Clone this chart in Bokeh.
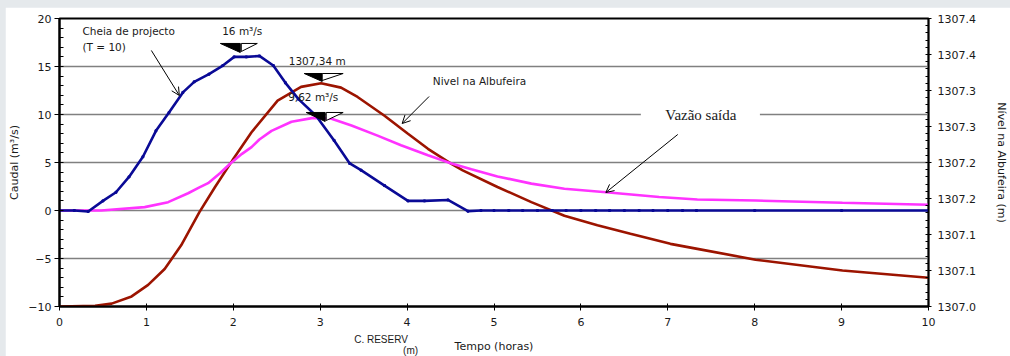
from bokeh.plotting import figure
from bokeh.models import Range1d, LinearAxis, FixedTicker, Label, Arrow, OpenHead, BoxAnnotation
from bokeh.embed import file_html
from bokeh.resources import INLINE

# ---------------- data ----------------
# Inflow hydrograph (Cheia de projecto, T = 10), m3/s
cheia_t = [0, 0.17, 0.33, 0.5, 0.65, 0.8, 0.96, 1.11, 1.26, 1.42, 1.55, 1.72, 1.88, 2.01, 2.15, 2.30,
           2.46, 2.60, 2.75, 2.95, 3.16, 3.34, 3.47, 3.74, 4.01, 4.20, 4.47, 4.70, 4.85,
           5.0, 5.17, 5.33, 5.5, 5.67, 5.83, 6.0, 6.17, 6.33, 6.5, 6.67, 6.83, 7.0, 7.17, 7.33, 8.0, 9.0, 10.0]
cheia_q = [0, 0, -0.1, 1.0, 1.9, 3.5, 5.6, 8.3, 10.2, 12.3, 13.4, 14.2, 15.1, 16.0, 16.0, 16.1,
           15.1, 13.3, 11.6, 9.9, 7.3, 4.9, 4.2, 2.6, 1.0, 1.0, 1.1, -0.07, 0,
           0, 0, 0, 0, 0, 0, 0, 0, 0, 0, 0, 0, 0, 0, 0, 0, 0, 0]

# Outflow (Vazão saída), m3/s
saida_t = [0, 0.48, 0.98, 1.25, 1.48, 1.61, 1.71, 1.85, 1.96, 2.10, 2.21, 2.30, 2.44, 2.67, 2.92, 3.13,
           3.36, 3.66, 3.93, 4.24, 4.51, 4.74, 5.04, 5.43, 5.81, 6.29, 6.90, 7.34, 8.01, 9.01, 10]
saida_q = [0, 0, 0.35, 0.87, 1.8, 2.4, 2.85, 3.9, 4.85, 5.9, 6.6, 7.4, 8.3, 9.25, 9.65, 9.55,
           8.85, 7.8, 6.8, 5.75, 4.9, 4.3, 3.55, 2.8, 2.26, 1.9, 1.4, 1.15, 1.04, 0.8, 0.6]

# Reservoir level (Nivel na Albufeira), m
nivel_t = [0, 0.41, 0.60, 0.83, 1.02, 1.21, 1.40, 1.61, 1.79, 1.99, 2.21, 2.51, 2.78, 3.01, 3.24, 3.43,
           3.74, 4.01, 4.24, 4.51, 4.64, 5.04, 5.43, 5.81, 6.19, 6.57, 7.03, 7.34, 8.01, 9.01, 10]
nivel_h = [1307.000, 1307.001, 1307.004, 1307.014, 1307.030, 1307.052, 1307.085, 1307.131, 1307.166,
           1307.203, 1307.242, 1307.286, 1307.305, 1307.310, 1307.304, 1307.291, 1307.265, 1307.240,
           1307.219, 1307.198, 1307.189, 1307.166, 1307.145, 1307.126, 1307.113, 1307.101, 1307.087,
           1307.080, 1307.065, 1307.050, 1307.040]

x_ticks = [0, 1, 2, 3, 4, 5, 6, 7, 8, 9, 10]
q_ticks = [-10, -5, 0, 5, 10, 15, 20]
h_ticks = [1307.0, 1307.05, 1307.1, 1307.15, 1307.2, 1307.25, 1307.3, 1307.35, 1307.4]
h_labels = ["1307.0", "1307.1", "1307.1", "1307.2", "1307.2", "1307.3", "1307.3", "1307.4", "1307.4"]
# texts under the time axis ("C. RESERV (m)"), placed at time positions
sub_ticks = [3.70, 4.04]
sub_labels = ["C. RESERV", "\u00a0\n(m)"]

BLUE = "#0a0a96"
MAGENTA = "#ff33ff"
BROWN = "#9c1400"
FONT = "DejaVu Sans"
TXT = "#1a1a1a"

p = figure(width=1005, height=349, x_range=Range1d(0, 10), y_range=Range1d(-10, 20),
           output_backend="svg", toolbar_location=None, margin=(7, 0, 0, 5),
           min_border_left=53, min_border_right=82, min_border_top=11, min_border_bottom=50)
p.extra_y_ranges = {"lvl": Range1d(1307.0, 1307.4)}
p.background_fill_color = "white"
p.border_fill_color = "white"
p.outline_line_color = "black"
p.outline_line_width = 2

# grid
p.xgrid.visible = False
p.ygrid.ticker = FixedTicker(ticks=[-5, 0, 5, 10, 15])
p.ygrid.grid_line_color = "#808080"
p.ygrid.grid_line_width = 1.6

# x axis (ticks only)
xa = p.xaxis[0]
xa.ticker = FixedTicker(ticks=x_ticks, minor_ticks=[])
xa.major_label_text_font = FONT
xa.major_label_text_font_size = "11px"
xa.major_label_text_color = TXT
xa.major_label_standoff = 7
xa.major_tick_in = 3
xa.major_tick_out = 4
xa.axis_line_width = 2
xa.axis_line_color = "black"

# second (invisible) x axis carrying "C. RESERV (m)" and the axis title
xb = LinearAxis(ticker=FixedTicker(ticks=sub_ticks, minor_ticks=[]),
                major_label_overrides={t: l for t, l in zip(sub_ticks, sub_labels)})
xb.axis_line_alpha = 0
xb.major_tick_in = 0
xb.major_tick_out = 0
xb.major_label_standoff = 5
xb.major_label_text_font = "Liberation Sans"
xb.major_label_text_font_size = "10px"
xb.major_label_text_line_height = 1.0
xb.major_label_text_color = TXT
xb.axis_label = "Tempo (horas)"
xb.axis_label_text_font = FONT
xb.axis_label_text_font_size = "11px"
xb.axis_label_text_font_style = "normal"
xb.axis_label_text_color = TXT
xb.axis_label_standoff = -19
p.add_layout(xb, "below")

# left axis
ya = p.yaxis[0]
ya.ticker = FixedTicker(ticks=q_ticks, minor_ticks=list(range(-10, 21)))
ya.axis_label = "Caudal (m³/s)"
ya.axis_label_text_font = FONT
ya.axis_label_text_font_size = "11px"
ya.axis_label_text_font_style = "normal"
ya.axis_label_text_color = TXT
ya.axis_label_standoff = 4
ya.major_label_text_font = FONT
ya.major_label_text_font_size = "11px"
ya.major_label_text_color = TXT
ya.major_label_standoff = 3
ya.major_tick_in = 2
ya.major_tick_out = 5
ya.minor_tick_in = 4
ya.minor_tick_out = 0
ya.axis_line_width = 2
ya.axis_line_color = "black"

# right axis
h_minor = [round(1307.0 + 0.01 * i, 2) for i in range(41)]
ra = LinearAxis(y_range_name="lvl", ticker=FixedTicker(ticks=h_ticks, minor_ticks=h_minor),
                major_label_overrides={t: l for t, l in zip(h_ticks, h_labels)})
ra.axis_label = "Nível na Albufeira (m)"
ra.axis_label_text_font = FONT
ra.axis_label_text_font_size = "11px"
ra.axis_label_text_font_style = "normal"
ra.axis_label_text_color = TXT
ra.axis_label_standoff = 16
ra.major_label_text_font = FONT
ra.major_label_text_font_size = "11px"
ra.major_label_text_color = TXT
ra.major_label_standoff = 6
ra.major_tick_in = 2
ra.major_tick_out = 3
ra.minor_tick_in = 3
ra.minor_tick_out = 0
ra.axis_line_width = 1.5
ra.axis_line_color = "black"
p.add_layout(ra, "right")

# white box behind "Vazão saída"
p.add_layout(BoxAnnotation(left=6.69, right=8.06, bottom=9.3, top=10.7, fill_color="white",
                           fill_alpha=1.0, line_alpha=0, level="underlay"))

# series
p.line(nivel_t, nivel_h, y_range_name="lvl", line_color=BROWN, line_width=2.6)
p.line(saida_t, saida_q, line_color=MAGENTA, line_width=2.6)
p.line(cheia_t, cheia_q, line_color=BLUE, line_width=2.6)
p.scatter(cheia_t, cheia_q, marker="square", size=2, color=BLUE)

# water-level symbols (black / white half triangles)
black_xs = [[1.851, 2.080, 2.080], [2.816, 3.023, 3.023], [2.839, 3.057, 3.057]]
black_ys = [[17.40, 17.40, 16.46], [14.27, 14.27, 13.44], [10.21, 10.21, 9.27]]
white_xs = [[2.092, 2.276, 2.092], [3.023, 3.264, 3.023], [3.069, 3.264, 3.069]]
white_ys = [[17.40, 17.40, 16.56], [14.27, 14.27, 13.54], [10.21, 10.21, 9.375]]
p.patches(black_xs, black_ys, fill_color="black", line_color="black", line_width=1)
p.patches(white_xs, white_ys, fill_color="white", line_color="black", line_width=1)

def lab(x, y, text, align="left", size="10.5px", font=FONT, color=TXT):
    p.add_layout(Label(x=x, y=y, text=text, text_align=align, text_baseline="middle",
                       text_font=font, text_font_size=size, text_color=color))

lab(0.264, 18.65, "Cheia de projecto")
lab(0.264, 17.08, "(T = 10)")
lab(2.103, 18.75, "16 m³/s", align="center")
lab(2.966, 15.6, "1307,34 m", align="center")
lab(2.92, 11.875, "9,62 m³/s", align="center")
lab(4.833, 13.44, "Nivel na Albufeira", align="center")
lab(7.38, 10.0, "Vazão saída", align="center", size="15px", font="Liberation Serif")

# arrows
for xs, ys, xe, ye in [(1.057, 16.67, 1.379, 11.98), (4.253, 11.875, 3.943, 9.06), (7.115, 7.92, 6.287, 1.875)]:
    p.add_layout(Arrow(end=OpenHead(size=8, line_width=1, line_color="black"),
                       x_start=xs, y_start=ys, x_end=xe, y_end=ye, line_width=1, line_color="black"))

html = file_html(p, INLINE)
html = html.replace("</head>", "<style>html, body { background-color: #e5e9ec; }</style></head>", 1)
open("out.html", "w").write(html)
